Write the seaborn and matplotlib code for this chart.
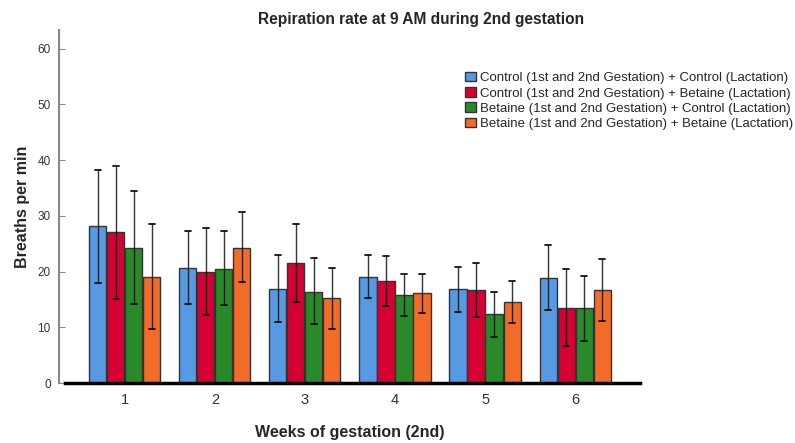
import matplotlib
matplotlib.use("Agg")
import matplotlib.pyplot as plt
import matplotlib.patches as mpatches
import seaborn as sns
import pandas as pd
import numpy as np

weeks = ["1", "2", "3", "4", "5", "6"]
groups = [
    "Control (1st and 2nd Gestation) + Control (Lactation)",
    "Control (1st and 2nd Gestation) + Betaine (Lactation)",
    "Betaine (1st and 2nd Gestation) + Control (Lactation)",
    "Betaine (1st and 2nd Gestation) + Betaine (Lactation)",
]
colors = ["#5799E3", "#D70033", "#2A8A2A", "#F26B29"]

cc_mean = [28.1, 20.7, 16.9, 19.1, 16.8, 18.9]
cb_mean = [27.0, 19.9, 21.5, 18.3, 16.7, 13.5]
bc_mean = [24.2, 20.5, 16.4, 15.8, 12.4, 13.4]
bb_mean = [19.1, 24.3, 15.2, 16.1, 14.6, 16.7]

cc_low = [18.0, 14.1, 11.0, 15.3, 12.7, 13.1]
cb_low = [15.0, 12.2, 14.5, 13.8, 11.9, 6.7]
bc_low = [14.2, 14.0, 10.6, 12.0, 8.3, 7.6]
bb_low = [9.6, 18.2, 9.6, 12.5, 10.7, 11.2]

cc_high = [38.2, 27.3, 22.9, 22.9, 20.9, 24.8]
cb_high = [39.0, 27.8, 28.6, 22.8, 21.6, 20.5]
bc_high = [34.4, 27.2, 22.5, 19.5, 16.4, 19.2]
bb_high = [28.5, 30.6, 20.7, 19.6, 18.3, 22.2]

means = [cc_mean, cb_mean, bc_mean, bb_mean]
lows = [cc_low, cb_low, bc_low, bb_low]
highs = [cc_high, cb_high, bc_high, bb_high]

rows = []
for g, m in zip(groups, means):
    for w, v in zip(weeks, m):
        rows.append({"week": w, "group": g, "value": v})
df = pd.DataFrame(rows)

sns.set_theme(style="white")
plt.rcParams["font.family"] = ["Liberation Sans", "DejaVu Sans"]

fig = plt.figure(figsize=(7.95, 4.43), dpi=100)
ax = fig.add_axes([0.0742, 0.1354, 0.7308, 0.7966])

sns.barplot(data=df, x="week", y="value", hue="group", order=weeks,
            hue_order=groups, palette=colors, saturation=1, errorbar=None,
            width=0.8, gap=0.05, edgecolor="#333333", linewidth=1.0,
            legend=False, ax=ax)

for cont, lo, hi in zip(ax.containers, lows, highs):
    for bar, l, h in zip(cont, lo, hi):
        xc = bar.get_x() + bar.get_width() / 2
        ax.plot([xc, xc], [l, h], color="#111111", lw=1.0, alpha=0.85, zorder=5)
        cw = bar.get_width() * 0.18
        ax.plot([xc - cw, xc + cw], [h, h], color="#111111", lw=1.3, zorder=5)
        ax.plot([xc - cw, xc + cw], [l, l], color="#111111", lw=1.3, zorder=5)

ax.set_xlim(-0.73, 5.72)
ax.set_ylim(0, 63.3)
ax.set_yticks([0, 10, 20, 30, 40, 50, 60])
ax.tick_params(axis="y", direction="in", length=4, width=0.8, color="#888888",
               labelsize=8.5, labelcolor="#333333", pad=6, left=True)
ax.tick_params(axis="x", length=0, labelsize=10.5, labelcolor="#333333", pad=7)

for s in ["top", "right"]:
    ax.spines[s].set_visible(False)
ax.spines["left"].set_color("#888888")
ax.spines["left"].set_linewidth(1.5)
ax.spines["bottom"].set_color("black")
ax.spines["bottom"].set_linewidth(2.5)
ax.spines["bottom"].set_bounds(-0.66, 5.72)

ax.set_xlabel("Weeks of gestation (2nd)", fontsize=11.5, fontweight="bold", labelpad=13)
ax.set_ylabel("Breaths per min", fontsize=11.5, fontweight="bold", labelpad=5)
fig.text(0.53, 0.955, "Repiration rate at 9 AM during 2nd gestation",
         ha="center", va="center", fontsize=11.2, fontweight="bold")

handles = [mpatches.Patch(facecolor=c, edgecolor="#333333", linewidth=1.0) for c in colors]
fig.legend(handles, groups, loc="upper left", bbox_to_anchor=(0.585, 0.838),
           frameon=False, fontsize=9.5, handlelength=0.8, handleheight=0.75,
           handletextpad=0.35, labelspacing=0.22, borderpad=0, borderaxespad=0)

fig.savefig("out.png", dpi=100)
